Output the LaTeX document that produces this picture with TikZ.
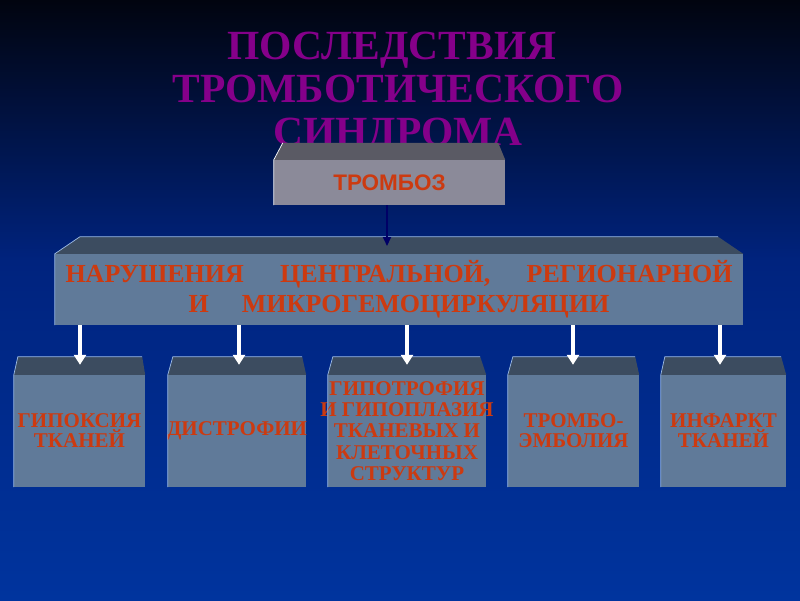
\documentclass[tikz,border=0pt]{standalone}
\usepackage{fontspec}
\setmainfont{Liberation Serif}
\newfontfamily\sansb{Liberation Sans}
\usetikzlibrary{arrows.meta,calc}
\definecolor{bgtop}{HTML}{01040F}
\definecolor{bgmid}{HTML}{00237E}
\definecolor{bgbot}{HTML}{00349E}
\definecolor{ttlc}{HTML}{85008A}
\definecolor{frontc}{HTML}{607A99}
\definecolor{topc}{HTML}{3C4C60}
\definecolor{gfront}{HTML}{8B8A99}
\definecolor{gtop}{HTML}{5A5A64}
\definecolor{redt}{HTML}{CC3A10}
\definecolor{hlc}{HTML}{9DBCE6}
\definecolor{navyc}{HTML}{000066}
\newcommand\zl[1]{\makebox[0pt]{#1}}
\newcommand\facetop[4]{% name, left inset, right inset, height
  \fill[topc] (#1.north west) -- ++(#2,-#4) -- ($(#1.north east)+(-#3,-#4)$) -- (#1.north east) -- cycle;
  \draw[hl] (#1.south west) -- (#1.north west) -- ++(#2,-#4) -- ($(#1.north east)+(-#3,-#4)$);}
\begin{document}
\begin{tikzpicture}[x=1pt,y=-1pt,
  ttl/.style={font=\bfseries\fontsize{41.5}{43}\selectfont, text=ttlc, inner sep=0pt, anchor=base},
  front/.style={fill=frontc, inner sep=0pt, text=redt, align=center,
     font=\bfseries\fontsize{21}{20}\selectfont},
  hl/.style={draw=hlc, line width=0.7pt},
  warrow/.style={draw=white, line width=3.5pt, -{Triangle[length=10pt,width=12pt]}},
  narrow/.style={draw=navyc, line width=2pt, -{Triangle[length=9pt,width=8pt]}}]
\useasboundingbox (0,0) rectangle (800,600);
% background
\shade[top color=bgtop, bottom color=bgmid] (0,0) rectangle (800,261);
\shade[top color=bgmid, bottom color=bgbot] (0,260) rectangle (800,600);
% title
\node[ttl] (t1) at (392,59) {ПОСЛЕДСТВИЯ};
\node[ttl] (t2) at (398,102) {ТРОМБОТИЧЕСКОГО};
\node[ttl] (t3) at (398,145) {СИНДРОМА};
% thrombosis box
\node[fill=gfront, minimum width=231pt, minimum height=45pt, inner sep=0pt,
  text=redt, font=\sansb\bfseries\fontsize{22.5}{22}\selectfont] (thromb) at (389.5,182.5)
  {ТРОМБОЗ};
\fill[gtop] (thromb.north west) -- ++(9,-17) -- ($(thromb.north east)+(-7,-17)$) -- (thromb.north east) -- cycle;
\draw[draw=white, line width=0.7pt] (thromb.south west) -- (thromb.north west) -- ++(9,-17);
% main box
\node[front, minimum width=688pt, minimum height=71pt, font=\bfseries\fontsize{26}{30}\selectfont] (main) at (399,289.5)
  {\makebox[667pt]{НАРУШЕНИЯ\hfill ЦЕНТРАЛЬНОЙ,\hfill РЕГИОНАРНОЙ}\\ И\hspace{33pt}МИКРОГЕМОЦИРКУЛЯЦИИ};
\facetop{main}{25}{25}{17}
% arrow thrombosis -> main
\coordinate (mtop) at (387,246);
\draw[narrow] (thromb.south -| mtop) -- (mtop);
% lower boxes
\node[front, minimum width=131pt, minimum height=112pt] (b1) at (79.5,431) {\zl{ГИПОКСИЯ}\\\zl{ТКАНЕЙ}};
\node[front, minimum width=138pt, minimum height=112pt] (b2) at (237,431) {\zl{ДИСТРОФИИ}};
\node[front, minimum width=158pt, minimum height=112pt, font=\bfseries\fontsize{21}{21.2}\selectfont] (b3) at (407,431)
  {\zl{ГИПОТРОФИЯ}\\\zl{И ГИПОПЛАЗИЯ}\\\zl{ТКАНЕВЫХ И}\\\zl{КЛЕТОЧНЫХ}\\\zl{СТРУКТУР}};
\node[front, minimum width=131pt, minimum height=112pt] (b4) at (573.5,431) {\zl{ТРОМБО-}\\\zl{ЭМБОЛИЯ}};
\node[front, minimum width=125pt, minimum height=112pt] (b5) at (723.5,431) {\zl{ИНФАРКТ}\\\zl{ТКАНЕЙ}};
\facetop{b1}{4}{3}{18}
\facetop{b2}{5}{4}{18}
\facetop{b3}{5}{6}{18}
\facetop{b4}{5}{4}{18}
\facetop{b5}{4}{5}{18}
% arrows main -> boxes
\coordinate (a1) at ($(b1.north)+(0.5,-10)$);
\coordinate (a2) at ($(b2.north)+(2,-10)$);
\coordinate (a3) at ($(b3.north)+(0,-10)$);
\coordinate (a4) at ($(b4.north)+(-0.5,-10)$);
\coordinate (a5) at ($(b5.north)+(-3.5,-10)$);
\foreach \a in {a1,a2,a3,a4,a5}
  \draw[warrow] (main.south -| \a) -- (\a);
\end{tikzpicture}
\end{document}
